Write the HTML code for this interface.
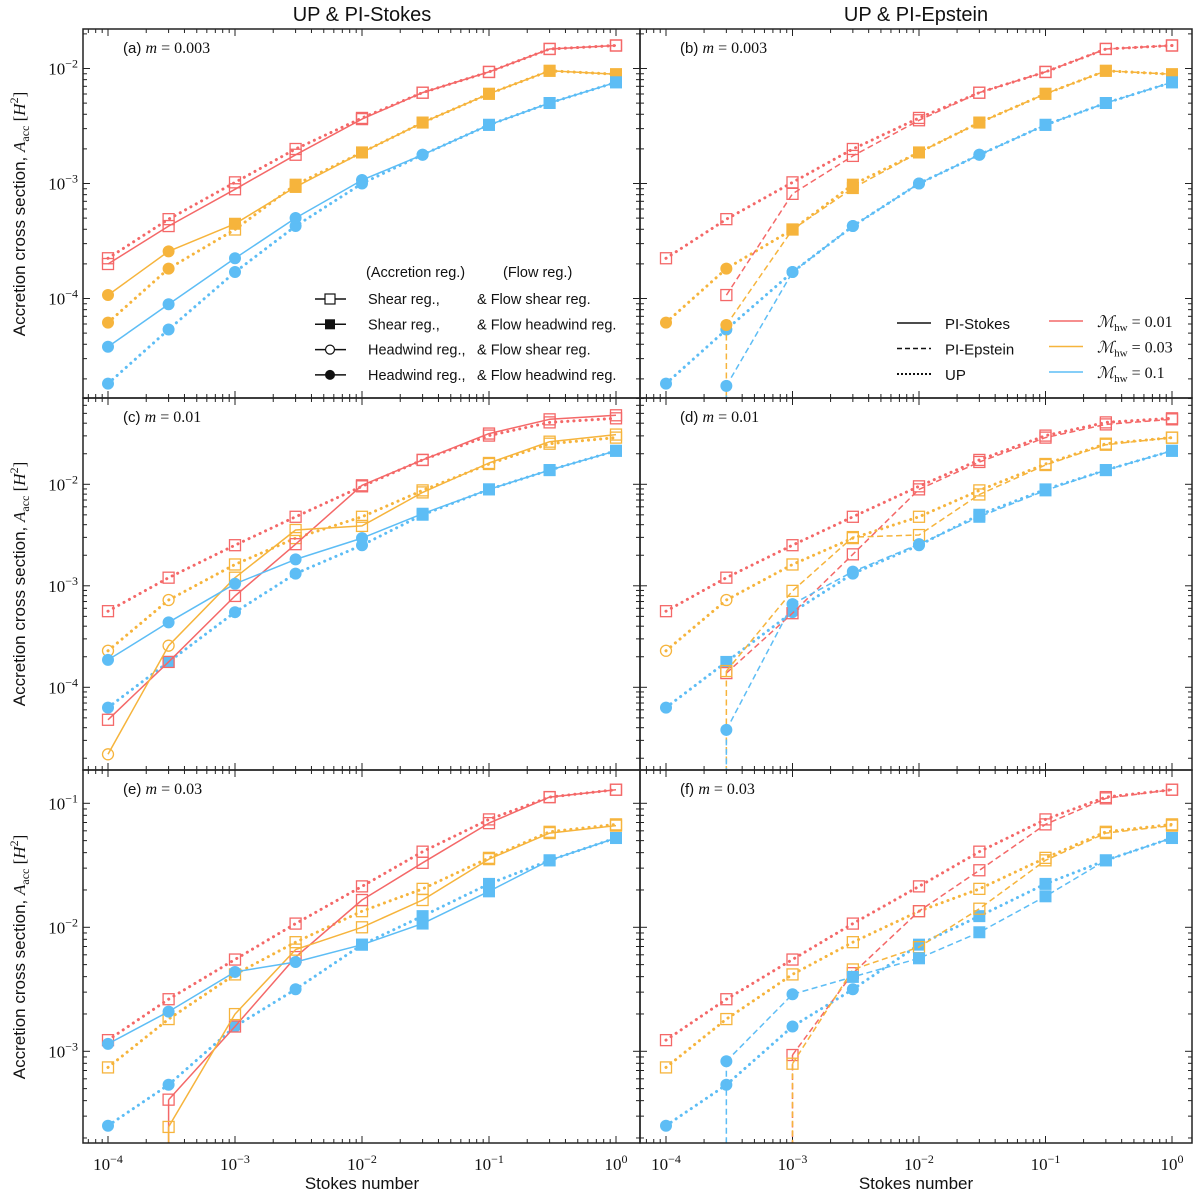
<!DOCTYPE html>
<html><head><meta charset="utf-8"><style>
html,body{margin:0;padding:0;background:#fff;}
svg{display:block;}
text{font-family:"Liberation Sans",sans-serif;fill:#111;}
.serif{font-family:"Liberation Serif",serif;}
</style></head><body>
<svg id="chart" width="1200" height="1193" viewBox="0 0 1200 1193" xmlns="http://www.w3.org/2000/svg">
<text x="362" y="21" font-size="20" text-anchor="middle">UP &amp; PI-Stokes</text>
<text x="916" y="21" font-size="20" text-anchor="middle">UP &amp; PI-Epstein</text>
<g id="g"></g>
</svg>
<script>
// Stokes numbers (x categories)
const stokes = [1e-4,3e-4,1e-3,3e-3,1e-2,3e-2,0.1,0.3,1];
const xTicks = [-4,-3,-2,-1,0];
// log10(A_acc) values
const a_up_r = [-3.65,-3.31,-2.99,-2.70,-2.43,-2.21,-2.03,-1.83,-1.80];
const a_st_r = [-3.70,-3.37,-3.05,-2.75,-2.44,-2.21,-2.03,-1.83,-1.80];
const a_up_o = [-4.21,-3.74,-3.40,-3.01,-2.73,-2.47,-2.22,-2.02,-2.05];
const a_st_o = [-3.97,-3.59,-3.35,-3.03,-2.73,-2.47,-2.22,-2.02,-2.05];
const a_up_b = [-4.74,-4.27,-3.77,-3.37,-3.00,-2.75,-2.49,-2.30,-2.12];
const a_st_b = [-4.42,-4.05,-3.65,-3.30,-2.97,-2.75,-2.49,-2.30,-2.12];
const b_ep_r = [null,-3.97,-3.09,-2.76,-2.45,-2.21,-2.03,-1.83,-1.80];
const b_ep_o = [null,-4.23,-3.40,-3.04,-2.73,-2.47,-2.22,-2.02,-2.05];
const b_ep_b = [null,-4.76,-3.77,-3.37,-3.00,-2.75,-2.49,-2.30,-2.12];
const c_up_r = [-3.25,-2.92,-2.60,-2.32,-2.02,-1.76,-1.52,-1.39,-1.35];
const c_st_r = [-4.32,-3.75,-3.10,-2.59,-2.01,-1.76,-1.50,-1.36,-1.32];
const c_up_o = [-3.64,-3.14,-2.79,-2.53,-2.32,-2.06,-1.80,-1.60,-1.54];
const c_st_o = [-4.66,-3.59,-2.92,-2.45,-2.41,-2.08,-1.79,-1.58,-1.51];
const c_up_b = [-4.20,-3.75,-3.26,-2.88,-2.60,-2.30,-2.05,-1.86,-1.67];
const c_st_b = [-3.73,-3.36,-2.98,-2.74,-2.53,-2.29,-2.05,-1.86,-1.67];
const d_ep_r = [null,-3.86,-3.27,-2.69,-2.05,-1.78,-1.54,-1.41,-1.36];
const d_ep_o = [null,-3.84,-3.05,-2.52,-2.50,-2.10,-1.81,-1.61,-1.54];
const d_ep_b = [null,-4.42,-3.18,-2.86,-2.59,-2.32,-2.06,-1.86,-1.67];
const e_up_r = [-2.91,-2.58,-2.26,-1.97,-1.67,-1.39,-1.13,-0.95,-0.89];
const e_st_r = [null,-3.39,-2.80,-2.24,-1.78,-1.48,-1.16,-0.95,-0.89];
const e_up_o = [-3.13,-2.74,-2.38,-2.12,-1.87,-1.69,-1.44,-1.23,-1.17];
const e_st_o = [null,-3.61,-2.70,-2.18,-2.00,-1.78,-1.45,-1.24,-1.18];
const e_up_b = [-3.60,-3.27,-2.80,-2.50,-2.14,-1.91,-1.65,-1.46,-1.28];
const e_st_b = [-2.94,-2.68,-2.36,-2.28,-2.14,-1.97,-1.71,-1.46,-1.28];
const f_ep_r = [null,null,-3.03,-2.37,-1.87,-1.54,-1.17,-0.96,-0.89];
const f_ep_o = [null,null,-3.10,-2.34,-2.16,-1.85,-1.46,-1.24,-1.18];
const f_ep_b = [null,-3.08,-2.54,-2.40,-2.25,-2.04,-1.75,-1.46,-1.28];

const RED='#f46868', ORA='#f6b43c', BLU='#5dbdf5';
const NS='http://www.w3.org/2000/svg';
const G=document.getElementById('g');
function el(tag,attrs,parent){const e=document.createElementNS(NS,tag);for(const k in attrs)e.setAttribute(k,attrs[k]);(parent||G).appendChild(e);return e;}

const cols=[{x0:83,x1:640,xa:108,dec:127},{x0:640,x1:1192,xa:666,dec:126.5}];
const rows=[{top:29,bot:398,yr:68.5,lr:-2,dec:115},{top:398,bot:770,yr:484.3,lr:-2,dec:101.5},{top:770,bot:1143,yr:803.3,lr:-1,dec:124}];
function xScale(c,st){return c.xa+(Math.log10(st)+4)*c.dec;}
function yScale(r,l){return r.yr-(l-r.lr)*r.dec;}

const panels=[
 {id:'a',lab:'(a)',m:'0.003',r:0,c:0,series:[
  {d:a_up_r,col:RED,ls:'up',mk:'sssssssss'},{d:a_up_o,col:ORA,ls:'up',mk:'OOsSSSSSS'},{d:a_up_b,col:BLU,ls:'up',mk:'OOOOOOSSS'},
  {d:a_st_r,col:RED,ls:'st',mk:'sssssssss'},{d:a_st_o,col:ORA,ls:'st',mk:'OOSSSSSSS'},{d:a_st_b,col:BLU,ls:'st',mk:'OOOOOOSSS'}]},
 {id:'b',lab:'(b)',m:'0.003',r:0,c:1,series:[
  {d:a_up_r,col:RED,ls:'up',mk:'sssssssss'},{d:a_up_o,col:ORA,ls:'up',mk:'OOsSSSSSS'},{d:a_up_b,col:BLU,ls:'up',mk:'OOOOOOSSS'},
  {d:b_ep_r,col:RED,ls:'ep',mk:'sssssssss'},{d:b_ep_o,col:ORA,ls:'ep',mk:'-OSSSSSSS',drop:1},{d:b_ep_b,col:BLU,ls:'ep',mk:'OOOOOOSSS',drop:1}]},
 {id:'c',lab:'(c)',m:'0.01',r:1,c:0,series:[
  {d:c_up_r,col:RED,ls:'up',mk:'sssssssss'},{d:c_up_o,col:ORA,ls:'up',mk:'oossssss s'},{d:c_up_b,col:BLU,ls:'up',mk:'OSOOOSSSS'},
  {d:c_st_r,col:RED,ls:'st',mk:'sssssssss'},{d:c_st_o,col:ORA,ls:'st',mk:'oosssssss'},{d:c_st_b,col:BLU,ls:'st',mk:'OOOOOSSSS'}]},
 {id:'d',lab:'(d)',m:'0.01',r:1,c:1,series:[
  {d:c_up_r,col:RED,ls:'up',mk:'sssssssss'},{d:c_up_o,col:ORA,ls:'up',mk:'oosssssss'},{d:c_up_b,col:BLU,ls:'up',mk:'OSOOOSSSS'},
  {d:d_ep_r,col:RED,ls:'ep',mk:'sssssssss'},{d:d_ep_o,col:ORA,ls:'ep',mk:'sssssssss',drop:1},{d:d_ep_b,col:BLU,ls:'ep',mk:'OOOOOSSSS',drop:1}]},
 {id:'e',lab:'(e)',m:'0.03',r:2,c:0,series:[
  {d:e_up_r,col:RED,ls:'up',mk:'sssssssss'},{d:e_up_o,col:ORA,ls:'up',mk:'sssssssss'},{d:e_up_b,col:BLU,ls:'up',mk:'OOOOSSSSS'},
  {d:e_st_r,col:RED,ls:'st',mk:'sssssssss',drop:1},{d:e_st_o,col:ORA,ls:'st',mk:'sssssssss',drop:1},{d:e_st_b,col:BLU,ls:'st',mk:'OOOOSSSSS'}]},
 {id:'f',lab:'(f)',m:'0.03',r:2,c:1,series:[
  {d:e_up_r,col:RED,ls:'up',mk:'sssssssss'},{d:e_up_o,col:ORA,ls:'up',mk:'sssssssss'},{d:e_up_b,col:BLU,ls:'up',mk:'OOOOSSSSS'},
  {d:f_ep_r,col:RED,ls:'ep',mk:'sssssssss',drop:2},{d:f_ep_o,col:ORA,ls:'ep',mk:'sssssssss',drop:2},{d:f_ep_b,col:BLU,ls:'ep',mk:'OOOSSSSSS',drop:1}]}
];

function sup(t,x,y,base,exp,anchor,name){
  const e=el('text',{x:x,y:y,'font-size':17,'text-anchor':anchor,'class':'serif'});
  
  
  const t1=el('tspan',{},e);t1.textContent=base;
  const t2=el('tspan',{dy:-7,'font-size':12},e);t2.textContent=exp;
  return e;
}

panels.forEach(p=>{
  const c=cols[p.c], r=rows[p.r];
  const pg=el('g',{});
  
  
  const cp=el('clipPath',{id:'clip'+p.id},pg);
  el('rect',{x:c.x0,y:r.top,width:c.x1-c.x0,height:r.bot-r.top},cp);
  // ticks
  const tg=el('g',{stroke:'#222','stroke-width':1},pg);
  
  
  const lTop=r.lr+(r.yr-r.top)/r.dec, lBot=r.lr-(r.bot-r.yr)/r.dec;
  for(let d=Math.floor(lBot);d<=Math.ceil(lTop);d++){
    for(let k=1;k<=9;k++){
      const l=d+Math.log10(k); if(l<lBot||l>lTop) continue;
      const y=yScale(r,l), len=k===1?7:4;
      el('line',{x1:c.x0,x2:c.x0+len,y1:y,y2:y},tg);
      el('line',{x1:c.x1,x2:c.x1-len,y1:y,y2:y},tg);
      if(k===1 && p.c===0){ sup(null,78,y+6,'10','−'+Math.abs(d),'end','y-tick-label'); }
    }
  }
  const xl0=(c.x0-c.xa)/c.dec-4, xl1=(c.x1-c.xa)/c.dec-4;
  for(let d=-5;d<=0;d++){
    for(let k=1;k<=9;k++){
      const l=d+Math.log10(k); if(l<xl0||l>xl1) continue;
      const x=xScale(c,Math.pow(10,l)), len=k===1?7:4;
      el('line',{x1:x,x2:x,y1:r.top,y2:r.top+len},tg);
      el('line',{x1:x,x2:x,y1:r.bot,y2:r.bot-len},tg);
    }
  }
  if(p.r===2){
    xTicks.forEach(t=>{
      const x=xScale(c,Math.pow(10,t));
      sup(null,x,1170,'10',t===0?'0':'−'+Math.abs(t),'middle','x-tick-label');
    });
  }
  // series
  const sg=el('g',{'clip-path':'url(#clip'+p.id+')'},pg);
  p.series.forEach((s,si)=>{
    const g2=el('g',{},sg);
    
    
    const pts=[];
    s.d.forEach((v,i)=>{ if(v!==null) pts.push([xScale(c,stokes[i]),yScale(r,v),i]); });
    const dash=s.ls==='up'?'0.1 6':(s.ls==='ep'?'6 3.5':'none');
    const sw=s.ls==='up'?3:1.5;
    const attrs={points:pts.map(q=>q[0].toFixed(1)+','+q[1].toFixed(1)).join(' '),fill:'none',stroke:s.col,'stroke-width':sw,'stroke-linecap':s.ls==='up'?'round':'butt','stroke-linejoin':'round'};
    if(dash!=='none')attrs['stroke-dasharray']=dash;
    el('polyline',attrs,g2);
    if(s.drop!==undefined && pts.length){
      const q=pts[0];
      const a2={x1:q[0],x2:q[0],y1:q[1],y2:r.bot+5,stroke:s.col,'stroke-width':1.5};
      if(dash!=='none')a2['stroke-dasharray']=dash;
      el('line',a2,g2);
    }
    pts.forEach(q=>{
      const m=s.mk.replace(/ /g,'')[q[2]]||'s'; const x=q[0],y=q[1];
      let mkEl;
      if(m==='s') mkEl=el('rect',{x:x-5.5,y:y-5.5,width:11,height:11,fill:'none',stroke:s.col,'stroke-width':1.3},g2);
      else if(m==='S') mkEl=el('rect',{x:x-6,y:y-6,width:12,height:12,fill:s.col},g2);
      else if(m==='o') mkEl=el('circle',{cx:x,cy:y,r:5.5,fill:'none',stroke:s.col,'stroke-width':1.3},g2);
      else if(m==='O') mkEl=el('circle',{cx:x,cy:y,r:6,fill:s.col},g2);
      else return;
      
      
    });
  });
  const fr=el('rect',{x:c.x0,y:r.top,width:c.x1-c.x0,height:r.bot-r.top,fill:'none',stroke:'#222','stroke-width':1.5},pg);
  
  
  const lt=el('text',{x:c.x0+40,y:r.top+24,'font-size':15},pg);
  
  
  const a1=el('tspan',{},lt);a1.textContent=p.lab+' ';
  const a2=el('tspan',{'class':'serif','font-style':'italic','font-size':16},lt);a2.textContent='m';
  const a3=el('tspan',{'class':'serif','font-size':16},lt);a3.textContent=' = '+p.m;
});

// y-axis titles
[214,584,957].forEach(yc=>{
  const t=el('text',{x:0,y:0,'font-size':17,'text-anchor':'middle',transform:'translate(25,'+yc+') rotate(-90)'});
  
  
  const s1=el('tspan',{},t);s1.textContent='Accretion cross section, ';
  const s2=el('tspan',{'class':'serif','font-style':'italic'},t);s2.textContent='A';
  const s3=el('tspan',{'class':'serif','font-size':12,dy:4},t);s3.textContent='acc';
  const s4=el('tspan',{'class':'serif',dy:-4},t);s4.textContent=' [';
  const s5=el('tspan',{'class':'serif','font-style':'italic'},t);s5.textContent='H';
  const s6=el('tspan',{'class':'serif','font-size':12,dy:-7},t);s6.textContent='2';
  const s7=el('tspan',{'class':'serif',dy:7},t);s7.textContent=']';
});
[362,916].forEach(xc=>{
  const t=el('text',{x:xc,y:1189,'font-size':17,'text-anchor':'middle'});
  
  
  t.textContent='Stokes number';
});

// marker legend (panel a)
const lg=el('g',{});


const lh=el('text',{x:366,y:277,'font-size':14.5},lg);lh.textContent='(Accretion reg.)';
const lh2=el('text',{x:503,y:277,'font-size':14.5},lg);lh2.textContent='(Flow reg.)';
const legRows=[['s','Shear reg.,','& Flow shear reg.'],['S','Shear reg.,','& Flow headwind reg.'],['o','Headwind reg.,','& Flow shear reg.'],['O','Headwind reg.,','& Flow headwind reg.']];
legRows.forEach((row,i)=>{
  const y=299+i*25.3;
  const e1=el('line',{x1:315,x2:346,y1:y,y2:y,stroke:'#111','stroke-width':1.5},lg);
  
  
  if(row[0]==='s') el('rect',{x:325,y:y-5,width:10,height:10,fill:'#fff',stroke:'#111','stroke-width':1.2},lg);
  if(row[0]==='S') el('rect',{x:325,y:y-5,width:10,height:10,fill:'#111'},lg);
  if(row[0]==='o') el('circle',{cx:330,cy:y,r:4.5,fill:'#fff',stroke:'#111','stroke-width':1.2},lg);
  if(row[0]==='O') el('circle',{cx:330,cy:y,r:5,fill:'#111'},lg);
  const t1=el('text',{x:368,y:y+5,'font-size':14.5},lg);t1.textContent=row[1];
  
  
  const t2=el('text',{x:477,y:y+5,'font-size':14.5},lg);t2.textContent=row[2];
});

// style / colour legend (panel b)
const lg2=el('g',{});


const styRows=[['none','PI-Stokes',1.5],['5 3','PI-Epstein',1.5],['2 2','UP',2]];
styRows.forEach((s,i)=>{
  const y=323+i*25.5;
  const a={x1:897,x2:931,y1:y,y2:y,stroke:'#111','stroke-width':s[2]};
  if(s[0]!=='none')a['stroke-dasharray']=s[0];
  el('line',a,lg2);
  const t=el('text',{x:945,y:y+6,'font-size':15},lg2);t.textContent=s[1];
  
  
});
[[RED,'0.01'],[ORA,'0.03'],[BLU,'0.1']].forEach((s,i)=>{
  const y=321+i*25.5;
  el('line',{x1:1049,x2:1083,y1:y,y2:y,stroke:s[0],'stroke-width':1.5},lg2);
  const t=el('text',{x:1097,y:y+6,'font-size':16,'class':'serif'},lg2);
  
  
  const a=el('tspan',{'font-style':'italic'},t);a.textContent='ℳ';
  const b=el('tspan',{'font-size':11,dy:4},t);b.textContent='hw';
  const c=el('tspan',{dy:-4},t);c.textContent=' = '+s[1];
});
</script>
</body></html>
